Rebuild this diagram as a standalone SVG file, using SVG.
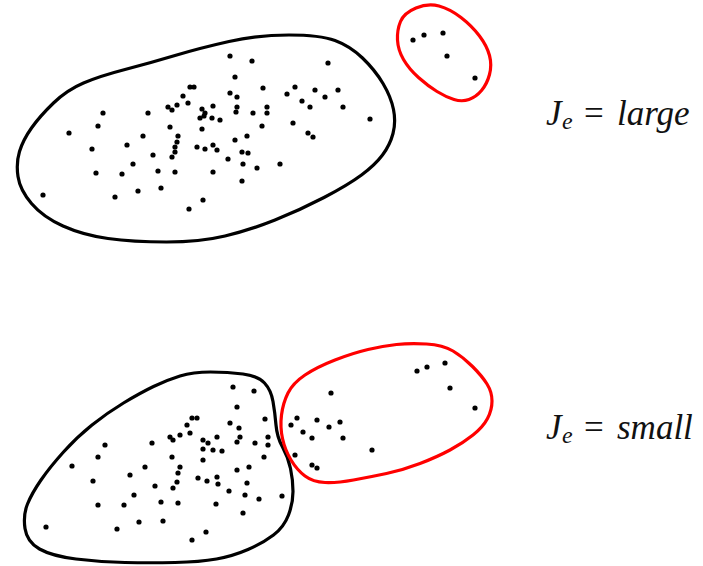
<svg xmlns="http://www.w3.org/2000/svg" xmlns:xlink="http://www.w3.org/1999/xlink" width="703" height="566" viewBox="0 0 703 566">
<style>
.blob{fill:none;stroke-width:3.2;stroke-linejoin:round}
.blk{stroke:#000}
.red{stroke:#f00}
.d{fill:#000}
.lbl{font-family:"Liberation Serif","DejaVu Serif",serif;font-style:italic;font-size:35px;fill:#111}
.sub{font-size:24px}
.eq{font-style:normal}
</style>
<defs>
<circle id="p" r="2.6" class="d"/>
</defs>
<rect width="703" height="566" fill="#fff"/>

<g id="cluster-top-black">
<path class="blob blk" d="M289,35 Q320,35 335,40.5 Q350,46 362.5,58 Q375,70 383,83.5 Q391,97 393.5,109.5 Q396,122 393,133.5 Q390,145 382.5,155 Q375,165 361.5,175 Q348,185 324,197.5 Q300,210 275,220 Q250,230 225,236 Q200,242 166.5,242 Q133,242 108,238.5 Q83,235 63,226 Q43,217 31.5,203.5 Q20,190 18,176.5 Q16,163 19.5,151.5 Q23,140 31.5,128 Q40,116 53.5,103 Q67,90 83.5,83 Q100,76 125,69.5 Q150,63 175,55.5 Q200,48 229,41.5 Q258,35 289,35 Z"/>
<g class="d">
<use href="#p" x="230" y="56"/><use href="#p" x="252" y="61"/><use href="#p" x="328" y="63"/><use href="#p" x="235" y="77"/>
<use href="#p" x="190" y="87"/><use href="#p" x="194" y="87"/><use href="#p" x="183" y="96"/><use href="#p" x="230" y="93"/>
<use href="#p" x="237" y="97"/><use href="#p" x="263" y="88"/><use href="#p" x="295" y="87"/><use href="#p" x="287" y="94"/>
<use href="#p" x="315" y="90"/><use href="#p" x="325" y="97"/><use href="#p" x="338" y="90"/><use href="#p" x="302" y="101"/>
<use href="#p" x="310" y="107"/><use href="#p" x="343" y="107"/><use href="#p" x="370" y="119"/><use href="#p" x="188" y="103"/>
<use href="#p" x="177" y="105"/><use href="#p" x="168" y="107"/><use href="#p" x="172" y="110"/><use href="#p" x="213" y="106"/>
<use href="#p" x="202" y="109"/><use href="#p" x="205" y="113"/><use href="#p" x="200" y="118"/><use href="#p" x="204" y="116"/>
<use href="#p" x="212" y="118"/><use href="#p" x="220" y="120"/><use href="#p" x="237" y="107"/><use href="#p" x="236" y="112"/>
<use href="#p" x="253" y="113"/><use href="#p" x="267" y="107"/><use href="#p" x="267" y="113"/><use href="#p" x="103" y="113"/>
<use href="#p" x="148" y="113"/><use href="#p" x="98" y="126"/><use href="#p" x="170" y="127"/><use href="#p" x="202" y="129"/>
<use href="#p" x="262" y="126"/><use href="#p" x="293" y="123"/><use href="#p" x="308" y="133"/><use href="#p" x="313" y="137"/>
<use href="#p" x="69" y="133"/><use href="#p" x="143" y="136"/><use href="#p" x="178" y="136"/><use href="#p" x="177" y="142"/>
<use href="#p" x="247" y="136"/><use href="#p" x="235" y="140"/><use href="#p" x="127" y="145"/><use href="#p" x="213" y="145"/>
<use href="#p" x="197" y="147"/><use href="#p" x="205" y="149"/><use href="#p" x="217" y="150"/><use href="#p" x="242" y="152"/>
<use href="#p" x="248" y="153"/><use href="#p" x="175" y="147"/><use href="#p" x="175" y="152"/><use href="#p" x="92" y="149"/>
<use href="#p" x="153" y="155"/><use href="#p" x="172" y="157"/><use href="#p" x="228" y="159"/><use href="#p" x="133" y="164"/>
<use href="#p" x="243" y="164"/><use href="#p" x="257" y="168"/><use href="#p" x="280" y="164"/><use href="#p" x="96" y="173"/>
<use href="#p" x="122" y="174"/><use href="#p" x="158" y="171"/><use href="#p" x="175" y="172"/><use href="#p" x="213" y="172"/>
<use href="#p" x="242" y="181"/><use href="#p" x="43" y="195"/><use href="#p" x="115" y="197"/><use href="#p" x="138" y="191"/>
<use href="#p" x="161" y="188"/><use href="#p" x="203" y="200"/><use href="#p" x="189" y="209"/>
</g>
</g>

<g id="cluster-top-red">
<path class="blob red" d="M439,6 Q450,9 461,17.5 Q472,26 479.5,36 Q487,46 489.5,55.5 Q492,65 489.5,74.5 Q487,84 481.5,90.5 Q476,97 469,99.5 Q462,102 454,99.5 Q446,97 437,91.5 Q428,86 418.5,77.5 Q409,69 403.5,59.5 Q398,50 397.5,40 Q397,30 400.5,21.5 Q404,13 416,8 Q428,3 439,6 Z"/>
<g class="d">
<use href="#p" x="413" y="40"/><use href="#p" x="424" y="35"/><use href="#p" x="443" y="33"/><use href="#p" x="447" y="56"/><use href="#p" x="475" y="78"/>
</g>
</g>

<g id="label-top">
<text class="lbl" x="546" y="125">J<tspan class="sub" x="562" dy="4">e</tspan><tspan class="eq" x="584" dy="-4">=</tspan><tspan x="617">large</tspan></text>
</g>

<g id="cluster-bottom-black">
<path class="blob blk" d="M210.5,372 Q228,372 243,374 Q258,376 264.5,383 Q271,390 273,401.5 Q275,413 276,425 Q277,437 282.5,447 Q288,457 290.5,468.5 Q293,480 293,491.5 Q293,503 288.5,515 Q284,527 273.5,535 Q263,543 248,549.5 Q233,556 216.5,559 Q200,562 175,562.5 Q150,563 125,562.5 Q100,562 76,559 Q52,556 39.5,549 Q27,542 25,528.5 Q23,515 27.5,504 Q32,493 41,480 Q50,467 63.5,452 Q77,437 92,425 Q107,413 123.5,403 Q140,393 153.5,386.5 Q167,380 180,376 Q193,372 210.5,372 Z"/>
<g class="d">
<use href="#p" x="233" y="387"/><use href="#p" x="254" y="391"/><use href="#p" x="237" y="407"/><use href="#p" x="265" y="419"/>
<use href="#p" x="230" y="423"/><use href="#p" x="239" y="428"/><use href="#p" x="240" y="437"/><use href="#p" x="237" y="442"/>
<use href="#p" x="192" y="418"/><use href="#p" x="197" y="418"/><use href="#p" x="187" y="425"/><use href="#p" x="190" y="433"/>
<use href="#p" x="170" y="437"/><use href="#p" x="173" y="440"/><use href="#p" x="180" y="435"/><use href="#p" x="203" y="440"/>
<use href="#p" x="217" y="437"/><use href="#p" x="208" y="443"/><use href="#p" x="203" y="449"/><use href="#p" x="213" y="450"/>
<use href="#p" x="222" y="451"/><use href="#p" x="255" y="443"/><use href="#p" x="268" y="437"/><use href="#p" x="268" y="445"/>
<use href="#p" x="105" y="445"/><use href="#p" x="152" y="443"/><use href="#p" x="98" y="457"/><use href="#p" x="172" y="457"/>
<use href="#p" x="203" y="460"/><use href="#p" x="264" y="457"/><use href="#p" x="72" y="466"/><use href="#p" x="145" y="467"/>
<use href="#p" x="180" y="467"/><use href="#p" x="178" y="473"/><use href="#p" x="249" y="467"/><use href="#p" x="237" y="470"/>
<use href="#p" x="130" y="475"/><use href="#p" x="198" y="478"/><use href="#p" x="207" y="481"/><use href="#p" x="217" y="477"/>
<use href="#p" x="218" y="484"/><use href="#p" x="247" y="483"/><use href="#p" x="177" y="482"/><use href="#p" x="93" y="481"/>
<use href="#p" x="155" y="486"/><use href="#p" x="173" y="488"/><use href="#p" x="229" y="491"/><use href="#p" x="134" y="495"/>
<use href="#p" x="245" y="495"/><use href="#p" x="259" y="499"/><use href="#p" x="282" y="496"/><use href="#p" x="98" y="505"/>
<use href="#p" x="124" y="505"/><use href="#p" x="161" y="502"/><use href="#p" x="178" y="503"/><use href="#p" x="216" y="504"/>
<use href="#p" x="243" y="513"/><use href="#p" x="46" y="527"/><use href="#p" x="117" y="529"/><use href="#p" x="139" y="522"/>
<use href="#p" x="163" y="521"/><use href="#p" x="206" y="532"/><use href="#p" x="192" y="540"/>
</g>
</g>

<g id="cluster-bottom-red">
<path class="blob red" d="M426.5,344 Q443,345 453,351 Q463,357 472.5,366.5 Q482,376 487,384 Q492,392 492,401 Q492,410 487.5,418.5 Q483,427 473,435 Q463,443 450,450 Q437,457 420,463.5 Q403,470 386.5,473.5 Q370,477 353.5,480 Q337,483 325,482.5 Q313,482 305,476 Q297,470 291,460 Q285,450 282.5,438.5 Q280,427 281.5,415 Q283,403 288,393 Q293,383 305,375 Q317,367 335,360 Q353,353 368,349.5 Q383,346 396.5,344.5 Q410,343 426.5,344 Z"/>
<g class="d">
<use href="#p" x="417" y="371"/><use href="#p" x="427" y="367"/><use href="#p" x="445" y="363"/><use href="#p" x="450" y="388"/>
<use href="#p" x="475" y="408"/><use href="#p" x="331" y="393"/><use href="#p" x="297" y="418"/><use href="#p" x="291" y="425"/>
<use href="#p" x="317" y="420"/><use href="#p" x="329" y="427"/><use href="#p" x="340" y="422"/><use href="#p" x="303" y="432"/>
<use href="#p" x="312" y="438"/><use href="#p" x="343" y="438"/><use href="#p" x="372" y="450"/><use href="#p" x="295" y="455"/>
<use href="#p" x="312" y="465"/><use href="#p" x="317" y="468"/>
</g>
</g>

<g id="label-bottom">
<text class="lbl" x="546" y="439">J<tspan class="sub" x="562" dy="4">e</tspan><tspan class="eq" x="584" dy="-4">=</tspan><tspan x="617">small</tspan></text>
</g>
</svg>
